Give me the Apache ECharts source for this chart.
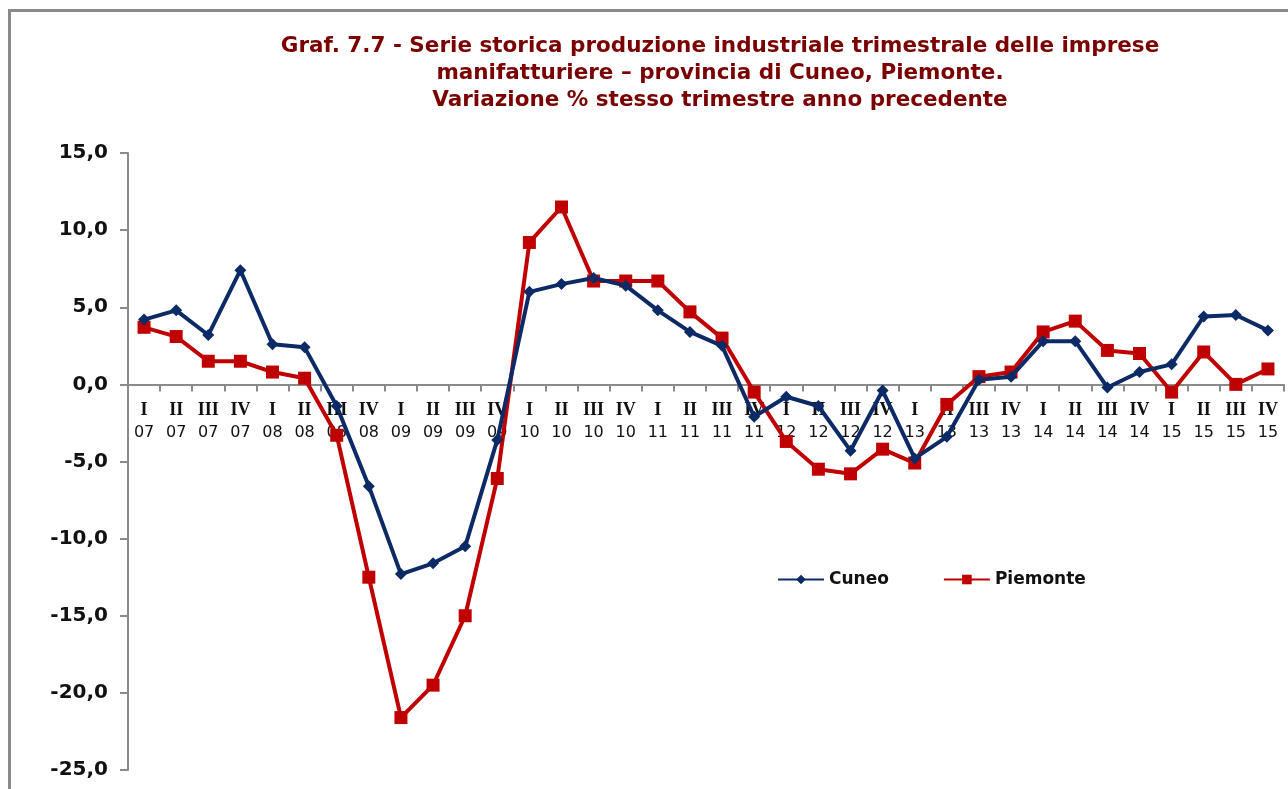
<!DOCTYPE html>
<html>
<head>
<meta charset="utf-8">
<script src="https://cdn.jsdelivr.net/npm/echarts@6/dist/echarts.min.js"></script>
<style>
  html, body { margin: 0; padding: 0; background: #fff; }
  #frame { position: absolute; left: 8px; top: 9px; width: 1280px; height: 780px;
           border-top: 3px solid #8a8a8a; border-left: 3px solid #8a8a8a; }
  #chart { position: absolute; left: 0; top: 0; width: 1288px; height: 789px; }
</style>
</head>
<body>
<div id="frame"></div>
<div id="chart"></div>
<script>
// trimestri e anni
const quarters = ['I', 'II', 'III', 'IV']
const years = ['07', '08', '09', '10', '11', '12', '13', '14', '15']
const categories = []
years.forEach(y => quarters.forEach(q => categories.push(q + '\n' + y)))

// variazione % stesso trimestre anno precedente
const cuneo = [
  4.2, 4.8, 3.2, 7.4,
  2.6, 2.4, -1.4, -6.6,
  -12.3, -11.6, -10.5, -3.6,
  6.0, 6.5, 6.9, 6.4,
  4.8, 3.4, 2.5, -2.1,
  -0.8, -1.4, -4.3, -0.4,
  -4.8, -3.4, 0.3, 0.5,
  2.8, 2.8, -0.2, 0.8,
  1.3, 4.4, 4.5, 3.5
]
const piemonte = [
  3.7, 3.1, 1.5, 1.5,
  0.8, 0.4, -3.3, -12.5,
  -21.6, -19.5, -15.0, -6.1,
  9.2, 11.5, 6.7, 6.7,
  6.7, 4.7, 3.0, -0.5,
  -3.7, -5.5, -5.8, -4.2,
  -5.1, -1.3, 0.5, 0.8,
  3.4, 4.1, 2.2, 2.0,
  -0.5, 2.1, 0.0, 1.0
]

const yTicks = { min: -25, max: 15, step: 5 }

// griglia
const gridTop = 153
const gridBottom = 19
const gridHeight = 789 - gridTop - gridBottom
// l'asse x passa per lo zero: spostamento dal fondo della griglia
const zeroOffset = gridHeight * (0 - yTicks.min) / (yTicks.max - yTicks.min)

const chart = echarts.init(document.getElementById('chart'))

const option = {
  animation: false,
  title: {
    text: 'Graf. 7.7 - Serie storica produzione industriale trimestrale delle imprese\nmanifatturiere – provincia di Cuneo, Piemonte.\nVariazione % stesso trimestre anno precedente',
    left: 715,
    textAlign: 'center',
    top: 28,
    textStyle: {
      fontFamily: 'DejaVu Sans',
      fontWeight: 'bold',
      fontSize: 21.5,
      lineHeight: 27,
      color: '#7b0000'
    }
  },
  legend: {
    left: 772,
    top: 566,
    itemWidth: 46,
    itemHeight: 12,
    itemGap: 54,
    textStyle: { fontFamily: 'DejaVu Sans', fontSize: 17, color: '#111', fontWeight: 'bold' },
    data: ['Cuneo', 'Piemonte']
  },
  grid: { left: 128, right: 4, top: gridTop, bottom: gridBottom },
  xAxis: {
    type: 'category',
    data: categories,
    boundaryGap: true,
    position: 'bottom',
    offset: -zeroOffset,
    axisLine: { onZero: false, lineStyle: { color: '#8a8a8a', width: 2 } },
    axisTick: { show: true, length: 7, lineStyle: { color: '#8a8a8a', width: 2 } },
    axisLabel: {
      interval: 0,
      margin: 15,
      color: '#111',
      formatter: v => {
        const [q, y] = v.split('\n')
        return '{q|' + q + '}\n{y|' + y + '}'
      },
      rich: {
        q: { fontFamily: 'Liberation Serif', fontWeight: 'bold', fontSize: 18, lineHeight: 22, color: '#111' },
        y: { fontFamily: 'DejaVu Sans', fontSize: 16, lineHeight: 22, color: '#111' }
      }
    },
    splitLine: { show: false }
  },
  yAxis: {
    type: 'value',
    min: yTicks.min,
    max: yTicks.max,
    interval: yTicks.step,
    axisLine: { show: true, lineStyle: { color: '#8a8a8a', width: 2 } },
    axisTick: { show: true, length: 8, lineStyle: { color: '#8a8a8a', width: 2 } },
    axisLabel: {
      margin: 20,
      fontFamily: 'DejaVu Sans',
      fontWeight: 'bold',
      fontSize: 20,
      color: '#111',
      formatter: v => v.toFixed(1).replace('.', ',')
    },
    splitLine: { show: false }
  },
  series: [
    {
      name: 'Cuneo',
      type: 'line',
      data: cuneo,
      symbol: 'diamond',
      symbolSize: 12,
      lineStyle: { color: '#0c2a66', width: 4 },
      itemStyle: { color: '#0c2a66' },
      z: 3
    },
    {
      name: 'Piemonte',
      type: 'line',
      data: piemonte,
      symbol: 'rect',
      symbolSize: 13,
      lineStyle: { color: '#c00000', width: 4 },
      itemStyle: { color: '#c00000' },
      z: 2
    }
  ]
}

chart.setOption(option)
</script>
</body>
</html>
